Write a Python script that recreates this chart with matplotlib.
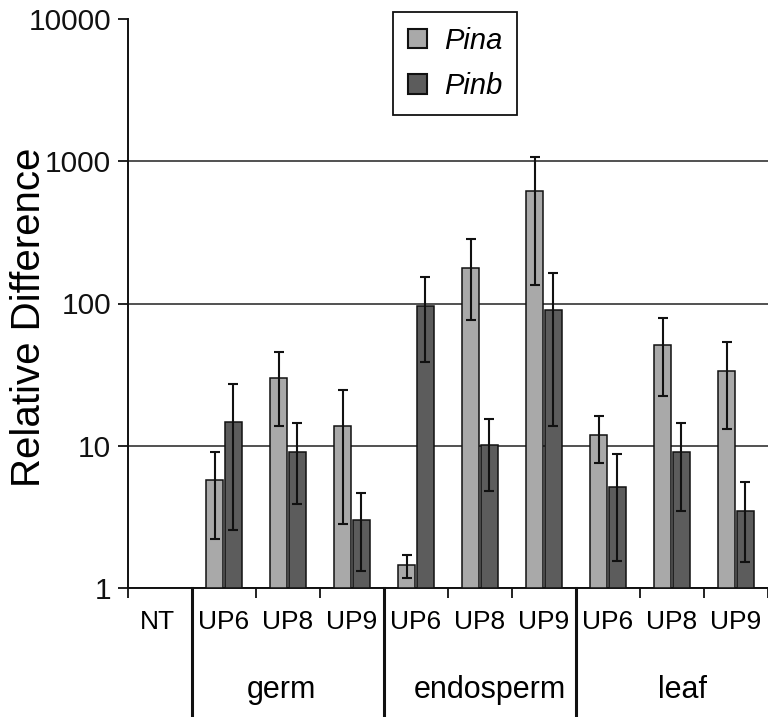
import matplotlib.pyplot as plt
import numpy as np
from matplotlib.patches import Patch

plt.rcParams['font.family'] = ['Liberation Sans', 'DejaVu Sans']

# data (relative difference, log scale)
categories = ['NT', 'UP6', 'UP8', 'UP9', 'UP6', 'UP8', 'UP9', 'UP6', 'UP8', 'UP9']
groups = ['germ', 'endosperm', 'leaf']
group_pos = [1.9, 5.15, 8.17]
pina = [np.nan, 5.7, 29.8, 13.7, 1.45, 178, 615, 11.9, 51, 33.6]
pina_lo = [np.nan, 2.2, 13.7, 2.8, 1.18, 76, 134, 7.6, 22.5, 13.1]
pina_hi = [np.nan, 9.0, 45.5, 24.7, 1.71, 282, 1070, 16.2, 79.4, 53.6]
pinb = [np.nan, 14.7, 9.0, 3.0, 96, 10.2, 90, 5.1, 9.0, 3.5]
pinb_lo = [np.nan, 2.56, 3.87, 1.32, 38.5, 4.8, 13.7, 1.56, 3.46, 1.52]
pinb_hi = [np.nan, 27.1, 14.4, 4.68, 154, 15.5, 165, 8.8, 14.4, 5.6]

c_pina = '#a9a9a9'
c_pinb = '#5c5c5c'

fig = plt.figure(figsize=(7.68, 7.17), dpi=100)
ax = fig.add_axes([128 / 768, 129 / 717, 640 / 768, 569 / 717])

x = np.arange(len(categories))
w = 0.27
off = 0.145

pina = np.array(pina)
pinb = np.array(pinb)
err_a = [pina - np.array(pina_lo), np.array(pina_hi) - pina]
err_b = [pinb - np.array(pinb_lo), np.array(pinb_hi) - pinb]

ekw = dict(elinewidth=1.5, capthick=1.5, ecolor='#111111')
ax.bar(x - off, pina - 1, bottom=1, width=w, color=c_pina, edgecolor='#111111',
       linewidth=1.1, yerr=err_a, capsize=3.6, error_kw=ekw, zorder=3)
ax.bar(x + off, pinb - 1, bottom=1, width=w, color=c_pinb, edgecolor='#111111',
       linewidth=1.1, yerr=err_b, capsize=3.6, error_kw=ekw, zorder=3)

ax.set_yscale('log')
ax.set_ylim(1, 10000)
ax.set_xlim(-0.5, 9.3)
ax.set_yticks([1, 10, 100, 1000, 10000])
ax.set_yticklabels(['1', '10', '100', '1000', '10000'], fontsize=21.5)
ax.minorticks_off()
ax.tick_params(axis='y', direction='out', length=7, width=1.3, pad=5, colors='#111111')
ax.yaxis.grid(True, color='#222222', linewidth=1.1)
ax.set_axisbelow(True)
# no gridline at 10000
ax.yaxis.get_gridlines()[-1].set_visible(False)

# category boundary ticks below the axis
ax.set_xticks(np.arange(-0.5, 9.6, 1.0))
ax.set_xticklabels([])
ax.tick_params(axis='x', direction='out', length=7, width=1.3, colors='#111111')

for s in ['top', 'right']:
    ax.spines[s].set_visible(False)
for s in ['left', 'bottom']:
    ax.spines[s].set_linewidth(1.4)
    ax.spines[s].set_color('#111111')

ax.set_ylabel('Relative Difference', fontsize=29)
ax.yaxis.set_label_coords(-0.125, 0.475)

# category and group labels
trans = ax.get_xaxis_transform()
for xi, lab in zip(x, categories):
    ax.text(xi - 0.04 if xi == 0 else xi, -34 / 569, lab, transform=trans,
            ha='center', va='center', fontsize=19, clip_on=False)
for gx, g in zip(group_pos, groups):
    ax.text(gx, -102 / 569, g, transform=trans, ha='center',
            va='center', fontsize=22, clip_on=False)
for xb in [0.5, 3.5, 6.5]:
    ax.plot([xb, xb], [0, -0.25], transform=trans, color='#111111',
            linewidth=2.2, clip_on=False)

handles = [Patch(facecolor=c_pina, edgecolor='#111111', linewidth=1.5),
           Patch(facecolor=c_pinb, edgecolor='#111111', linewidth=1.5)]
leg = fig.legend(handles, ['Pina', 'Pinb'], loc='upper center',
                 bbox_to_anchor=(455 / 768, 1 - 12 / 717), borderaxespad=0,
                 fancybox=False, edgecolor='#111111', framealpha=1,
                 handlelength=0.65, handleheight=0.65, handletextpad=0.6,
                 labelspacing=0.6, borderpad=0.5,
                 prop={'size': 21, 'style': 'italic'})
leg.get_frame().set_linewidth(1.3)

fig.savefig('out.png', dpi=100)
